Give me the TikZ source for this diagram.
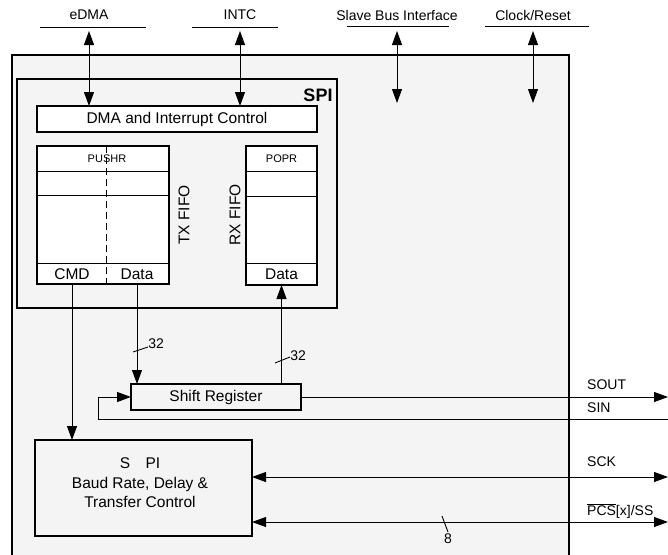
\documentclass[tikz,border=0pt]{standalone}
\usepackage{fontspec}
\setmainfont{Liberation Sans}
\usetikzlibrary{arrows.meta,positioning}
\definecolor{fond}{RGB}{244,244,244}

\tikzset{
  boite/.style={draw,line width=1.2pt,inner sep=0pt,outer sep=0pt},
  cadre/.style={draw,line width=1.8pt,fill=fond,anchor=north west,inner sep=0pt,outer sep=0pt},
  fil/.style={line width=0.9pt},
  petit/.style={font=\fontsize{11}{13}\selectfont},
  broche/.style={font=\fontsize{14}{16}\selectfont,inner sep=0pt},
}

\begin{document}
\begin{tikzpicture}[x=1pt,y=-1pt,font=\fontsize{15.5}{19.5}\selectfont,>={Triangle[length=14pt,width=10pt]}]
\useasboundingbox (0,0) rectangle (668,554);
\clip (0,0) rectangle (668,554);
% blocs
\node[cadre,minimum width=557,minimum height=520] (bloc) at (12,55) {};
\node[cadre,minimum width=320,minimum height=229] (spi) at (17,79) {};
\node[font=\bfseries\fontsize{18}{20}\selectfont] (titre) at (318,95) {SPI};
% interfaces du haut
\node[broche] (edma) at (89,15) {eDMA};
\node[broche] (intc) at (240,15) {INTC};
\node[broche] (slave) at (397,15) {Slave Bus Interface};
\node[broche] (clock) at (533,15) {Clock/Reset};
\draw[fil] (40,27) -- (146,27);
\draw[fil] (192,27) -- (278,27);
\draw[fil] (347,26) -- (449,26);
\draw[fil] (485,26) -- (589,26);
\coordinate (haut) at (0,31);
\coordinate (bas) at (0,103);
\node[boite,fill=white,minimum width=280,minimum height=26] (dma) at (177,119) {DMA and Interrupt Control};
\draw[fil,<->] (edma |- haut) -- (edma |- dma.north);
\draw[fil,<->] (intc |- haut) -- (intc |- dma.north);
\draw[fil,<->] (slave |- haut) -- (slave |- bas);
\draw[fil,<->] (clock |- haut) -- (clock |- bas);
% TX FIFO
\node[boite,fill=white,minimum width=132,minimum height=138] (pushr) at (103,215) {};
\foreach \y in {171,195,263}
  \draw[fil] (pushr.west |- 0,\y) -- (pushr.east |- 0,\y);
\draw[fil,dash pattern=on 7pt off 4pt] (pushr.north -| 106,0) -- (pushr.south -| 106,0);
\node[petit] (pushrtxt) at (107,159) {PUSHR};
\node (cmd) at (72,274) {CMD};
\node (txdata) at (137,274) {Data};
\node[rotate=90] (txfifo) at (184,215) {TX FIFO};
% RX FIFO
\node[boite,fill=white,minimum width=71,minimum height=139] (popr) at (281.5,215.5) {};
\foreach \y in {171,196,263}
  \draw[fil] (popr.west |- 0,\y) -- (popr.east |- 0,\y);
\node[petit] (poprtxt) at (281.5,159) {POPR};
\node (rxdata) at (281.5,274) {Data};
\node[rotate=90] (rxfifo) at (235,215) {RX FIFO};
% registre et controle
\node[boite,minimum width=170,minimum height=26] (shift) at (216,397) {Shift Register};
\node[boite,minimum width=217,minimum height=96] (baud) at (143.5,488) {};
\node[align=center] (baudtxt) at (140,483) {S\hspace{1em}PI\\Baud Rate, Delay \&\\Transfer Control};
\draw[fil,->] (cmd |- pushr.south) -- (cmd |- baud.north);
\draw[fil,->] (txdata |- pushr.south) -- (txdata |- shift.north);
\draw[fil,->] (rxdata |- shift.north) -- (rxdata |- popr.south);
\draw[fil] (133,352) -- (148,347) node[broche,anchor=west,yshift=3pt] {32};
\draw[fil] (275,363) -- (290,357) node[broche,anchor=west,yshift=1pt] {32};
% broches
\coordinate (sout) at (668,397);
\coordinate (sin) at (668,419);
\coordinate (retour) at (98,419);
\coordinate (sck) at (668,477);
\coordinate (pcs) at (668,522);
\draw[fil,->] (shift.east) -- (sout);
\draw[fil,->] (sin) -- (retour) |- (shift.west);
\draw[fil,<->] (baud.east |- sck) -- (sck);
\draw[fil,<->] (baud.east |- pcs) -- (pcs);
\draw[fil] (442,516) -- (448,532) node[broche,below,inner sep=1pt] {8};
\node[broche,anchor=west] at (587,385) {SOUT};
\node[broche,anchor=west] at (587,408) {SIN};
\node[broche,anchor=west] at (587,462) {SCK};
\node[broche,anchor=west] at (587,511) {$\overline{\hbox{PCS}}$[x]/SS};
\end{tikzpicture}
\end{document}
